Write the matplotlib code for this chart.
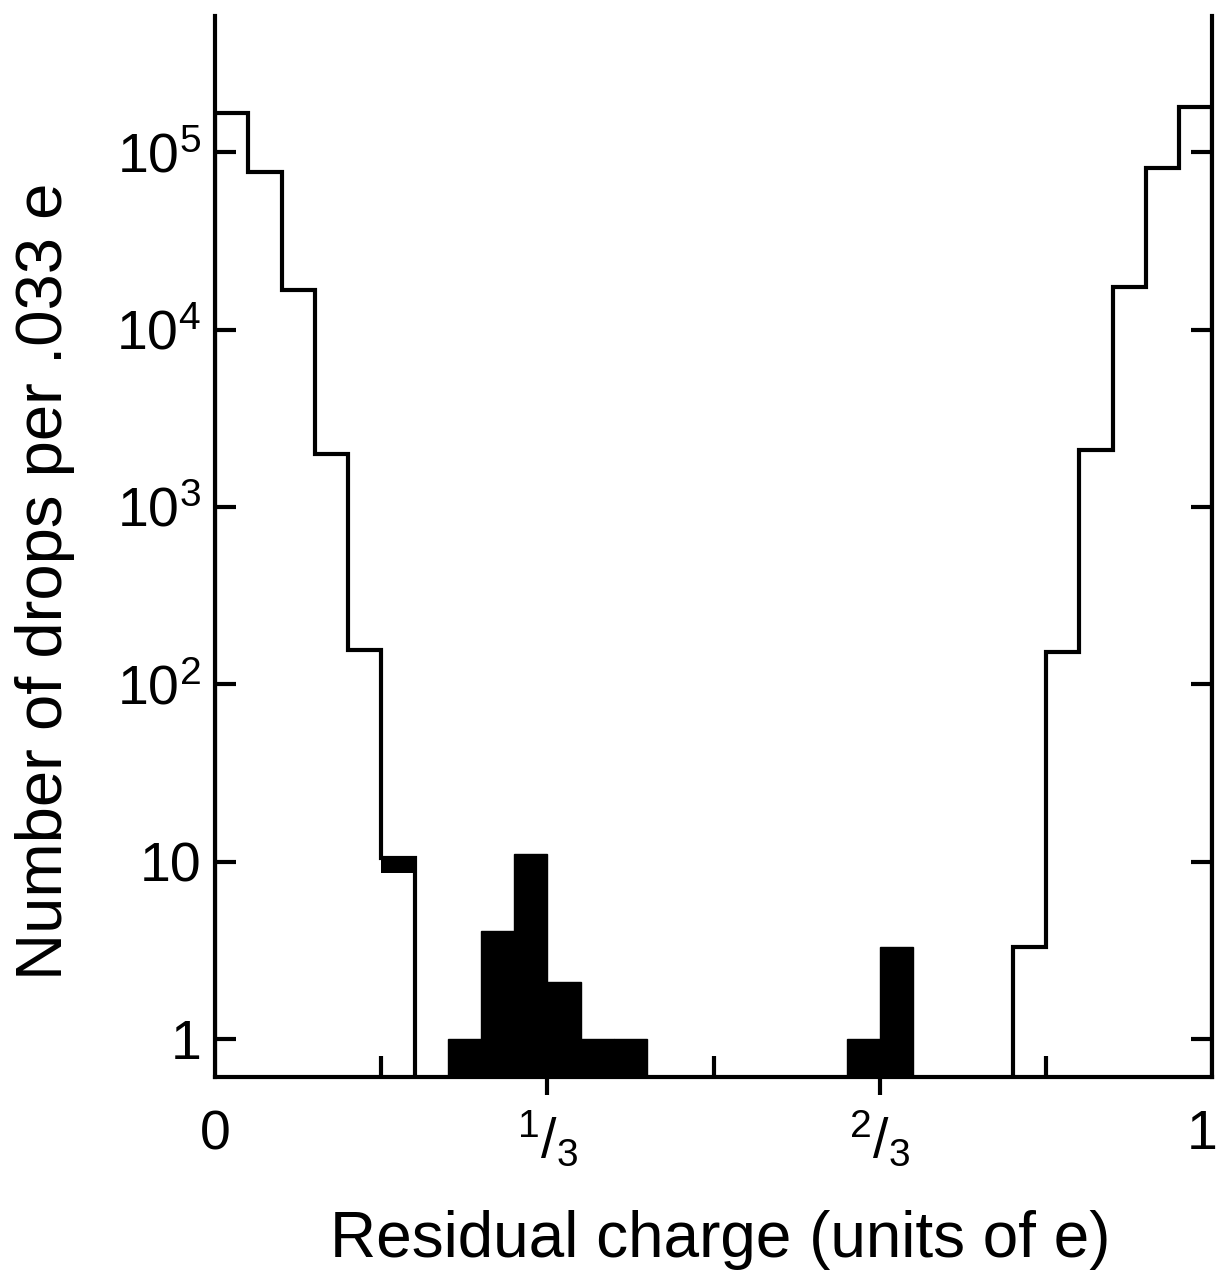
import numpy as np
import matplotlib
matplotlib.use("Agg")
import matplotlib.pyplot as plt
from matplotlib.ticker import NullLocator
from matplotlib.transforms import ScaledTranslation

plt.rcParams["font.family"] = ["Liberation Sans", "DejaVu Sans"]
plt.rcParams["mathtext.fontset"] = "custom"
plt.rcParams["mathtext.rm"] = "Liberation Sans"
plt.rcParams["mathtext.it"] = "Liberation Sans:italic"
plt.rcParams["mathtext.bf"] = "Liberation Sans:bold"

BIN = 1 / 30  # .033 e

# integer-charge peaks, drawn as outline
left_bins = [0, 1, 2, 3, 4, 5]
left_counts = [1.66e5, 7.7e4, 1.68e4, 2.0e3, 157, 10.5]
right_bins = [24, 25, 26, 27, 28, 29]
right_counts = [3.3, 152, 2.1e3, 1.73e4, 8.1e4, 1.8e5]

# filled bars (drops away from integer charge)
fill_bins = [7, 8, 9, 10, 11, 12, 19, 20]
fill_counts = [1.0, 4.1, 11.0, 2.1, 1.0, 1.0, 1.0, 3.3]
cap_bin = 5
cap_lo, cap_hi = 8.7, 10.5

yticks = [1, 10, 1e2, 1e3, 1e4, 1e5]
ytick_labels = ["1", "10", r"$10^2$", r"$10^3$", r"$10^4$", r"$10^5$"]
xticks = [0, 1 / 3, 2 / 3, 1]
xtick_labels = ["0", r"${}^{1}/_{3}$", r"${}^{2}/_{3}$", "1"]
xminor = [1 / 6, 1 / 2, 5 / 6]

YBOT, YTOP = 0.61, 5.85e5
LW = 3.0

fig = plt.figure(figsize=(12.22, 12.81), dpi=100)
ax = fig.add_axes([0.176, 0.159, 0.816, 0.8285])
ax.set_yscale("log")
ax.set_xlim(0, 1)
ax.set_ylim(YBOT, YTOP)

edges_l = np.append(left_bins, left_bins[-1] + 1) * BIN
edges_r = np.append(right_bins, right_bins[-1] + 1) * BIN
ax.stairs(left_counts, edges_l, baseline=YBOT, color="black", lw=LW)
ax.stairs(right_counts, edges_r, baseline=YBOT, color="black", lw=LW)

fb = np.array(fill_bins) * BIN
ax.bar(fb, np.array(fill_counts) - YBOT, bottom=YBOT, width=BIN, align="edge",
       color="black", edgecolor="black", lw=1)
ax.bar(cap_bin * BIN, cap_hi - cap_lo, bottom=cap_lo, width=BIN, align="edge",
       color="black", lw=0)

for s in ["left", "right", "bottom"]:
    ax.spines[s].set_linewidth(LW)
ax.spines["top"].set_visible(False)

ax.set_yticks(yticks)
ax.set_yticklabels(ytick_labels)
ax.yaxis.set_minor_locator(NullLocator())
ax.tick_params(axis="y", which="major", direction="in", length=15, width=LW,
               left=True, right=True, labelsize=40, pad=10)

ax.set_xticks(xticks)
ax.set_xticklabels(xtick_labels)
ax.set_xticks(xminor, minor=True)
ax.tick_params(axis="x", which="major", direction="out", length=13, width=LW,
               labelsize=40, pad=10)
ax.tick_params(axis="x", which="minor", direction="in", length=15, width=LW)
majors = ax.xaxis.get_major_ticks()
for t in [majors[0], majors[-1]]:
    t.tick1line.set_visible(False)
# keep the "1" inside the canvas
last = ax.get_xticklabels()[-1]
last.set_transform(last.get_transform() + ScaledTranslation(-10 / 100, 0, fig.dpi_scale_trans))

ax.set_xlabel("Residual charge (units of e)", fontsize=46)
ax.set_ylabel("Number of drops per .033 e", fontsize=47)
ax.xaxis.set_label_coords(0.507, -0.125)
ax.yaxis.set_label_coords(-0.14, 0.467)

plt.savefig("out.png", dpi=100)
